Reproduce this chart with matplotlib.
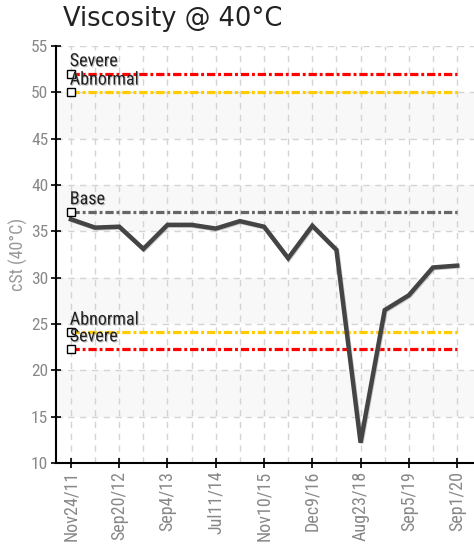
import matplotlib
matplotlib.use("Agg")
import matplotlib.pyplot as plt
import matplotlib.patheffects as pe
import numpy as np

values = [36.3, 35.4, 35.5, 33.1, 35.7, 35.7, 35.3, 36.1, 35.5, 32.1, 35.6, 33.0, 12.2, 26.5, 28.1, 31.1, 31.3]
tick_labels = ["Nov24/11", "Sep20/12", "Sep4/13", "Jul11/14", "Nov10/15",
               "Dec9/16", "Aug23/18", "Sep5/19", "Sep1/20"]
ref_names = ["Severe", "Abnormal", "Base", "Abnormal", "Severe"]
ref_values = [52.0, 50.0, 37.1, 24.1, 22.3]
ref_colors = ["#ff0000", "#ffcc00", "#666666", "#ffcc00", "#ff0000"]

narrow = ["Roboto Condensed", "Archivo Narrow", "PT Sans Narrow", "DejaVu Sans"]

fig = plt.figure(figsize=(4.74, 5.49), dpi=100)
ax = fig.add_axes([56/474, 1-463/549, 1-56/474, (463-46)/549])

x = np.arange(len(values))
ax.set_xlim(-0.62, 16.7)
ax.set_ylim(10, 55)

for lo in range(15, 55, 10):
    ax.axhspan(lo, lo + 5, color="#f8f8f8", zorder=0, lw=0)

for yv in range(15, 56, 5):
    ax.axhline(yv, color="#d4d4d4", lw=1, dashes=(4.5, 4), zorder=1)
for xv in x:
    ax.axvline(xv, color="#d4d4d4", lw=1, dashes=(4.5, 4), zorder=1)

shadow = [pe.withSimplePatchShadow(offset=(0.8, -0.8), shadow_rgbFace="#888888", alpha=0.5)]
for name, val, col in zip(ref_names, ref_values, ref_colors):
    ax.plot([x[0], x[-1]], [val, val], color=col, lw=2.3, dashes=(2.6, 0.9, 0.9, 0.9), zorder=3,
            dash_capstyle="butt")
    ax.plot([x[0]], [val], marker="s", ms=5.8, mfc="white", mec="black", mew=1.0, zorder=5, ls="none")
    ax.text(x[0] - 0.05, val + 0.4, name, fontsize=13, color="#222222", family=narrow,
            ha="left", va="bottom", zorder=6, path_effects=shadow)

ax.plot(x, values, color="#444444", lw=3.2, zorder=4, solid_joinstyle="miter",
        path_effects=[pe.SimpleLineShadow(offset=(0.6, -0.6), shadow_color="#999999", alpha=0.5),
                      pe.Normal()])

ax.set_xticks(x[::2])
ax.set_xticklabels(tick_labels, rotation=90, fontsize=13, color="#888888", family=narrow)
ax.set_yticks(range(10, 56, 5))
ax.set_yticklabels([str(v) for v in range(10, 56, 5)], fontsize=12.5, color="#888888", family=narrow)
ax.tick_params(axis="both", direction="inout", length=7, width=1.2, color="black", pad=2)
ax.set_ylabel("cSt (40°C)", fontsize=13, color="#999999", family=narrow, labelpad=2)

for s in ["top", "right"]:
    ax.spines[s].set_visible(False)
for s in ["left", "bottom"]:
    ax.spines[s].set_linewidth(1.5)
    ax.spines[s].set_color("black")

fig.text(63/474, 1-19/549, "Viscosity @ 40°C", fontsize=18.5, color="#222222",
         family="DejaVu Sans", ha="left", va="center")

fig.savefig("out.png", dpi=100)
